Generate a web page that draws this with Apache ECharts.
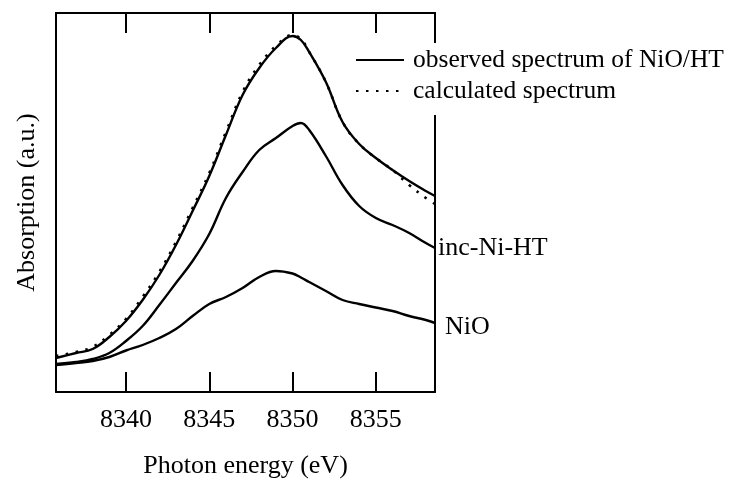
<!DOCTYPE html>
<html>
<head>
<meta charset="utf-8">
<script src="https://cdn.jsdelivr.net/npm/echarts@6/dist/echarts.min.js"></script>
<style>
html,body{margin:0;padding:0;background:#fff;}
#chart{width:743px;height:480px;}
</style>
</head>
<body>
<div id="chart"></div>
<script>
const energies = [8335.8, 8337, 8338, 8339, 8340, 8341, 8342, 8343, 8344, 8345, 8346, 8347, 8348, 8349, 8350, 8350.5, 8351, 8352, 8353, 8354, 8355, 8356, 8357, 8358, 8358.55];
const observed = [34, 39, 43, 55, 71, 92, 117, 147, 181, 216, 257, 297, 324, 344, 356, 352, 340, 310, 270, 248, 234, 222, 211, 201, 196];
const calculated = [36, 40, 45, 57, 73, 95, 120, 150, 184, 219, 260, 300, 327, 346, 357, 353, 340, 310, 270, 248, 234, 222, 207, 194, 188];
const incNiHT = [28, 30, 33, 39, 51, 66, 87, 109, 131, 158, 194, 220, 242, 254, 266, 269, 262, 236, 207, 186, 174, 167, 159, 149, 144];
const nio = [27, 29, 31, 35, 41.5, 47, 54, 63, 76, 88, 95, 104, 115, 121, 118.5, 114.5, 110, 101, 92, 88, 84.5, 81, 76, 72, 69];
const tickValues = [8340, 8345, 8350, 8355];
const seriesNames = ['observed spectrum of NiO/HT', 'calculated spectrum', 'inc-Ni-HT', 'NiO'];

const FONT = '"Liberation Serif", "Times New Roman", serif';
const pairs = arr => energies.map((e, i) => [e, arr[i]]);

const chart = echarts.init(document.getElementById('chart'), null, {renderer: 'canvas'});
const xBase = {
  type: 'value', min: 8335.8, max: 8358.55,
  splitLine: {show: false},
  axisLine: {show: true, onZero: false, lineStyle: {color: '#000', width: 2}},
  axisTick: {show: true, inside: true, length: 20, lineStyle: {color: '#000', width: 2}, customValues: tickValues}
};
chart.setOption({
  animation: false,
  backgroundColor: '#fff',
  grid: {left: 56, right: 308, top: 13, bottom: 88, containLabel: false, outerBoundsMode: 'none'},
  legend: {
    data: [seriesNames[0], seriesNames[1]],
    orient: 'vertical',
    left: 350, top: 43,
    padding: [4, 8, 11, 5],
    itemWidth: 48, itemHeight: 14, itemGap: 5,
    backgroundColor: '#fff',
    itemStyle: {color: 'rgba(0,0,0,0)', borderWidth: 0, opacity: 0},
    textStyle: {fontFamily: FONT, fontSize: 25.5, color: '#000', lineHeight: 25, padding: [0, 0, 0, 4]}
  },
  xAxis: [
    Object.assign({}, xBase, {
      position: 'bottom',
      name: 'Photon energy (eV)', nameLocation: 'middle', nameGap: 61,
      nameTextStyle: {fontFamily: FONT, fontSize: 26, color: '#000'},
      axisLabel: {show: true, customValues: tickValues, margin: 15, fontFamily: FONT, fontSize: 26, color: '#000',
                  formatter: v => String(v)}
    }),
    Object.assign({}, xBase, {position: 'top', axisLabel: {show: false}})
  ],
  yAxis: [
    {type: 'value', min: 0, max: 379, position: 'left',
     name: 'Absorption (a.u.)', nameLocation: 'middle', nameGap: 16,
     nameTextStyle: {fontFamily: FONT, fontSize: 26, color: '#000'},
     splitLine: {show: false}, axisTick: {show: false}, axisLabel: {show: false},
     axisLine: {show: true, onZero: false, lineStyle: {color: '#000', width: 2}}},
    {type: 'value', min: 0, max: 379, position: 'right',
     splitLine: {show: false}, axisTick: {show: false}, axisLabel: {show: false},
     axisLine: {show: true, onZero: false, lineStyle: {color: '#000', width: 2}}}
  ],
  series: [
    {name: seriesNames[1], type: 'line', data: pairs(calculated), smooth: 0.4, showSymbol: false, symbol: 'none',
     lineStyle: {color: '#000', width: 2.6, type: [2.5, 7.5]}, itemStyle: {color: '#000'}},
    {name: seriesNames[0], type: 'line', data: pairs(observed), smooth: 0.4, showSymbol: false, symbol: 'none',
     lineStyle: {color: '#000', width: 2.4}, itemStyle: {color: '#000'}},
    {name: seriesNames[2], type: 'line', data: pairs(incNiHT), smooth: 0.4, showSymbol: false, symbol: 'none',
     lineStyle: {color: '#000', width: 2.4}, itemStyle: {color: '#000'},
     endLabel: {show: true, formatter: '{a}', distance: 3, offset: [0, 0], fontFamily: FONT, fontSize: 26, color: '#000'}},
    {name: seriesNames[3], type: 'line', data: pairs(nio), smooth: 0.4, showSymbol: false, symbol: 'none',
     lineStyle: {color: '#000', width: 2.4}, itemStyle: {color: '#000'},
     endLabel: {show: true, formatter: '{a}', distance: 3, offset: [7, 4], fontFamily: FONT, fontSize: 26, color: '#000'}}
  ]
});
</script>
</body>
</html>
